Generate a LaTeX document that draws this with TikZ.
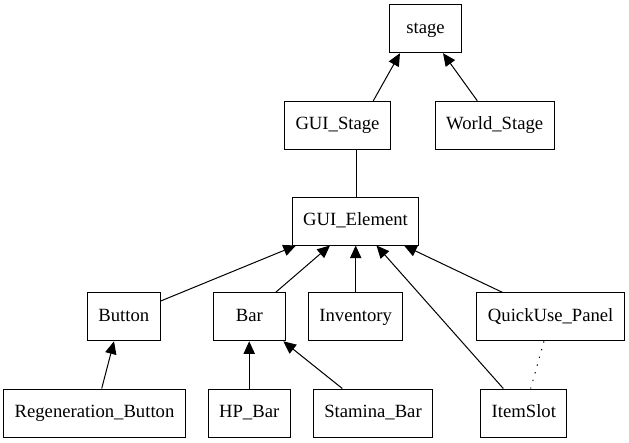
\documentclass[tikz,border=0pt]{standalone}
\usepackage{fontspec}
\setmainfont{Liberation Serif}
\usetikzlibrary{arrows.meta,calc}

\begin{document}
\begin{tikzpicture}[x=0.75pt, y=-0.75pt, line width=0.75pt,
    every node/.style={rectangle, draw, font=\fontsize{14pt}{16pt}\selectfont,
        minimum width=54pt, minimum height=36pt, inner xsep=8.25pt,
        text height=9.5pt, text depth=3pt},
    arr/.style={-{Triangle[length=9.5pt, width=8.5pt]}}]
    \useasboundingbox (0,0) rectangle (629,443);

    \node (st) at (425.5,28.7) {stage};
    \node (gs) at (337.5,125.3) {GUI\_Stage};
    \node (ws) at (494.7,125.3) {World\_Stage};
    \node (ge) at (355.5,221) {GUI\_Element};
    \node (bt) at (123.8,316.8) {Button};
    \node (br) at (249.3,316.8) {Bar};
    \node (inv) at (355.7,316.8) {Inventory};
    \node (qp) at (550.7,316.8) {QuickUse\_Panel};
    \node (rb) at (94.5,413) {Regeneration\_Button};
    \node (hp) at (249.2,413) {HP\_Bar};
    \node (sb) at (373,413) {Stamina\_Bar};
    \node (is) at (523.8,413) {ItemSlot};

    \draw[arr] ($(gs.north)+(35.8,0)$) -- ($(st.south)+(-25.5,0)$);
    \draw[arr] ($(ws.north)+(-17.4,0)$) -- ($(st.south)+(17.5,0)$);
    \draw ($(gs.south)+(18.8,0)$) -- ($(ge.north)+(0.8,0)$);
    \draw[arr] ($(bt.east)+(0,-15.8)$) -- ($(ge.south)+(-59.5,0)$);
    \draw[arr] ($(br.north)+(26.4,0)$) -- ($(ge.south)+(-25.5,0)$);
    \draw[arr] (inv.north) -- (inv.north |- ge.south);
    \draw[arr] ($(is.north)+(-20.5,0)$) -- ($(ge.south)+(21,0)$);
    \draw[arr] ($(qp.north)+(-48.4,0)$) -- ($(ge.south)+(48.5,0)$);
    \draw[arr] ($(rb.north)+(7.2,0)$) -- ($(bt.south)+(-9.8,0)$);
    \draw[arr] (hp.north) -- (hp.north |- br.south);
    \draw[arr] ($(sb.north)+(-30.7,0)$) -- ($(br.south)+(34,0)$);
    \draw[dash pattern=on 1pt off 5pt] ($(qp.south)+(-6.7,0)$) -- ($(is.north)+(6.9,0)$);
\end{tikzpicture}
\end{document}
